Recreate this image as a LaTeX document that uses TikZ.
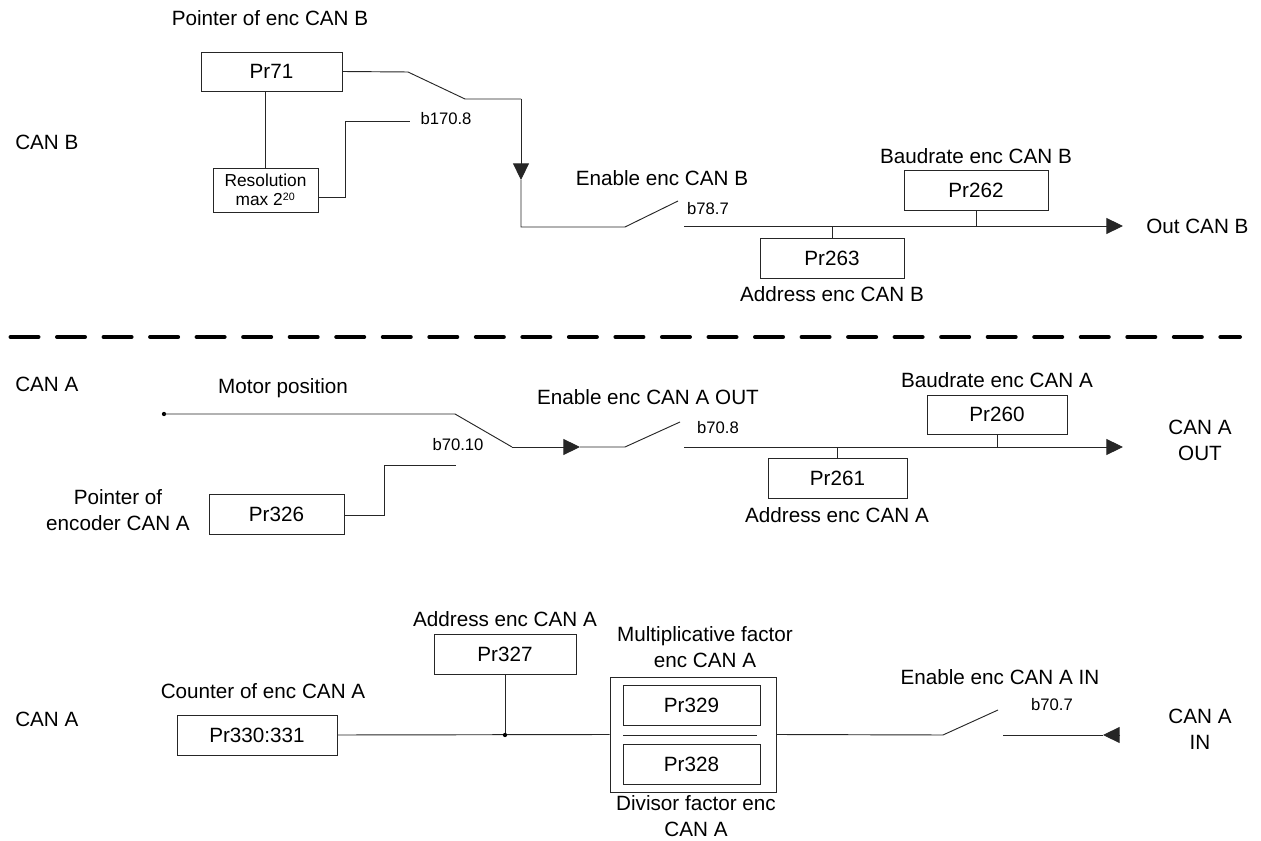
\documentclass[tikz,border=0pt]{standalone}
\usepackage{fontspec}
\setmainfont{Liberation Sans}
\usetikzlibrary{arrows.meta}
\begin{document}
\begin{tikzpicture}[x=0.75pt,y=-0.75pt,
  every node/.style={font=\fontsize{15.5}{19}\selectfont, inner sep=0pt},
  wire/.style={line width=0.7pt, draw=black!85},
  tri/.style={-{Triangle[length=12.5pt,width=12pt]}},
  box/.style n args={2}{draw=black!85, line width=0.7pt, minimum width=#1*0.75pt, minimum height=#2*0.75pt},
  lbl/.style={font=\fontsize{15.5}{19.5}\selectfont, align=center},
  sml/.style={font=\fontsize{12.5}{15}\selectfont, align=center}]
\useasboundingbox (0,0) rectangle (1261,841);

% ---------- CAN B ----------
\node[anchor=west] (canb) at (15,142) {CAN B};
\node[lbl] (tptr) at (270,18) {Pointer of enc CAN B};
\node[box={141}{39}] (pr71) at (271.5,71.5) {Pr71};
\node[box={105}{44}, align=center, font=\fontsize{13}{14.5}\selectfont] (res) at (265.5,190) {Resolution\\max 2\textsuperscript{\fontsize{8}{9}\selectfont 20}};
\node[sml] (b1708) at (446,119) {b170.8};
\coordinate (p1) at (408,72);
\coordinate (p2) at (465,99);
\coordinate (p3) at (521,99);
\coordinate (p4) at (521,180);
\coordinate (p5) at (521,227);
\coordinate (p6) at (625,227);
\coordinate (p7) at (678,201);
\draw[wire] (pr71.east) -- (p1) -- (p2) -- (p3);
\draw[wire,tri] (p3) -- (p4);
\draw[wire] (p4) -- (p5) -- (p6) -- (p7);
\draw[wire] (pr71.south -| res.north) -- (res.north);
\coordinate (r1) at (345,197);
\coordinate (r2) at (345,121);
\coordinate (r3) at (410,121);
\draw[wire] (res.east |- r1) -- (r1) -- (r2) -- (r3);

\node[lbl] (tenb) at (662,178) {Enable enc CAN B};
\node[sml] (b787) at (708,209) {b78.7};
\coordinate (ob1) at (684,226);
\coordinate (ob2) at (1123,226);
\draw[wire,tri] (ob1) -- (ob2);
\node[anchor=west] (outb) at (1146,226) {Out CAN B};
\node[box={144}{40}] (pr263) at (832,258) {Pr263};
\node[lbl] (tadb) at (832,294) {Address enc CAN B};
\draw[wire] (pr263.north) -- (pr263.north |- ob1);
\node[box={144}{40}] (pr262) at (976,190) {Pr262};
\node[lbl] (tbdb) at (976,156) {Baudrate enc CAN B};
\draw[wire] (pr262.south) -- (pr262.south |- ob1);

% ---------- separator ----------
\coordinate (d1) at (10.5,337);
\coordinate (d2) at (1240,337);
\draw[line width=3pt, line cap=round, dash pattern=on 21pt off 13.9pt] (d1) -- (d2);

% ---------- CAN A OUT ----------
\node[anchor=west] (canao) at (15,384) {CAN A};
\node[lbl] (tmot) at (283,388) {Motor position};
\coordinate (m0) at (164,414);
\fill (m0) circle (1.6pt);
\coordinate (m1) at (455,414);
\coordinate (m2) at (512,447);
\coordinate (m3) at (580,447);
\coordinate (m4) at (625,447);
\coordinate (m5) at (680,422);
\draw[wire] (m0) -- (m1) -- (m2);
\draw[wire,tri] (m2) -- (m3);
\draw[wire] (m3) -- (m4) -- (m5);
\node[sml] (b7010) at (458,445) {b70.10};
\node[lbl] (tptra) at (118,510) {Pointer of\\encoder CAN A};
\node[box={135}{40}] (pr326) at (276.5,514) {Pr326};
\coordinate (q1) at (384,515);
\coordinate (q2) at (384,465);
\coordinate (q3) at (456,465);
\draw[wire] (pr326.east |- q1) -- (q1) -- (q2) -- (q3);

\node[lbl] (tenao) at (648,397) {Enable enc CAN A OUT};
\node[sml] (b708) at (718,428) {b70.8};
\coordinate (oa1) at (684,447);
\coordinate (oa2) at (1123,447);
\draw[wire,tri] (oa1) -- (oa2);
\node[lbl] (outa) at (1200,440) {CAN A\\OUT};
\node[box={139}{40}] (pr261) at (837.5,478) {Pr261};
\node[lbl] (tada) at (837,515) {Address enc CAN A};
\draw[wire] (pr261.north) -- (pr261.north |- oa1);
\node[box={140}{39}] (pr260) at (997,414.5) {Pr260};
\node[lbl] (tbda) at (997,380) {Baudrate enc CAN A};
\draw[wire] (pr260.south) -- (pr260.south |- oa1);

% ---------- CAN A IN ----------
\node[anchor=west] (canai) at (15,719) {CAN A};
\node[lbl] (tcnt) at (263,691) {Counter of enc CAN A};
\node[box={160}{40}] (pr330) at (257,735) {Pr330:331};
\node[box={142}{40}] (pr327) at (505,654) {Pr327};
\node[lbl] (tad327) at (505,619) {Address enc CAN A};
\node[box={166}{115}] (outer) at (693,734.5) {};
\node[box={137}{40}] (pr329) at (691.5,705) {Pr329};
\node[box={137}{40}] (pr328) at (691.5,764) {Pr328};
\coordinate (s1) at (623,735);
\coordinate (s2) at (757,735);
\draw[wire] (s1) -- (s2);
\node[lbl] (tmul) at (705,647) {Multiplicative factor\\enc CAN A};
\node[lbl] (tdiv) at (696,816) {Divisor factor enc\\CAN A};
\coordinate (jn) at (505,735);
\draw[wire] (pr330.east) -- (outer.west);
\draw[wire] (pr327.south) -- (jn);
\fill (jn) circle (1.6pt);
\coordinate (i1) at (943,735);
\coordinate (i2) at (998,710);
\draw[wire] (outer.east) -- (i1) -- (i2);
\node[lbl] (tenai) at (1000,677) {Enable enc CAN A IN};
\node[sml] (b707) at (1052,705) {b70.7};
\coordinate (n1) at (1120,735);
\coordinate (n2) at (1103,735);
\coordinate (n3) at (1003,735);
\draw[wire,tri] (n1) -- (n2);
\draw[wire] (n2) -- (n3);
\node[lbl] (ina) at (1200,729) {CAN A\\IN};
\end{tikzpicture}
\end{document}
